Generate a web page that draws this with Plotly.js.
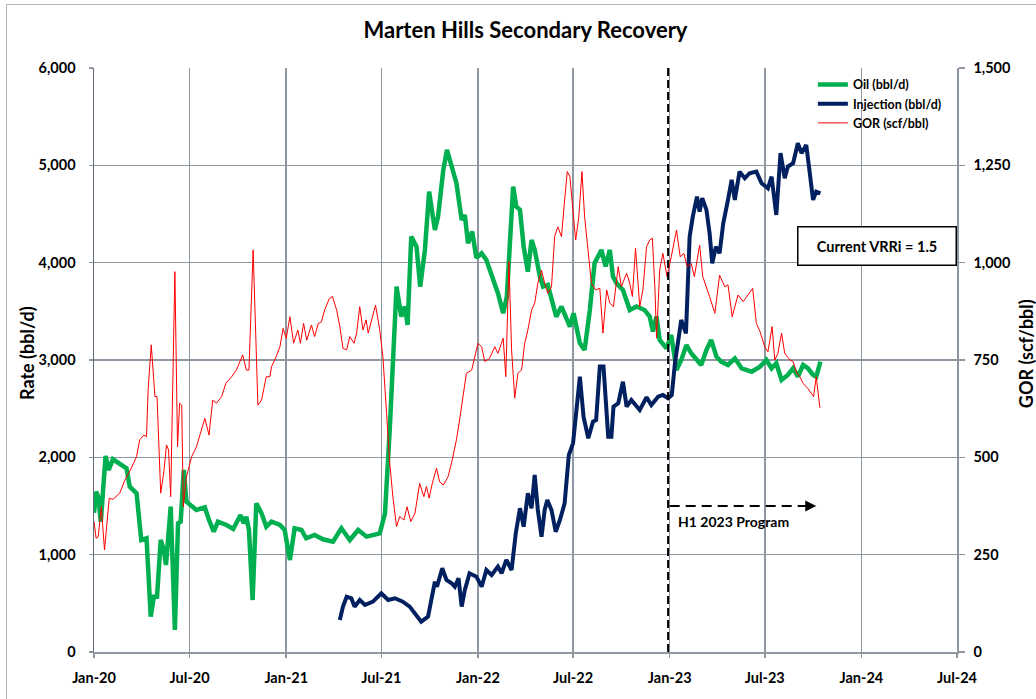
<!DOCTYPE html>
<html>
<head>
<meta charset="utf-8">
<script src="https://cdn.plot.ly/plotly-3.0.1.min.js"></script>
<style>
  html, body { margin: 0; padding: 0; background: #ffffff; overflow: hidden; }
  #chart { position: absolute; left: 0; top: 0; width: 1036px; height: 699px; }
  #frame { position: absolute; left: 6px; top: 4px; width: 1200px; height: 900px;
           border-left: 1px solid #b4b4b4; border-top: 1px solid #b4b4b4; pointer-events: none; }
</style>
</head>
<body>
<div id="chart"></div>
<div id="frame"></div>
<script>
// ---------------- DATA ----------------
const oilDates = ["2020-01-01","2020-01-05","2020-01-09","2020-01-14","2020-01-23","2020-01-29","2020-02-06","2020-02-19","2020-03-03","2020-03-09","2020-03-22","2020-03-31","2020-04-10","2020-04-18","2020-04-24","2020-04-30","2020-05-07","2020-05-13","2020-05-17","2020-05-26","2020-06-03","2020-06-09","2020-06-14","2020-06-20","2020-06-25","2020-07-14","2020-07-30","2020-08-07","2020-08-16","2020-08-24","2020-09-09","2020-09-22","2020-10-06","2020-10-12","2020-10-17","2020-10-22","2020-10-29","2020-11-05","2020-11-15","2020-11-24","2020-12-04","2020-12-20","2020-12-29","2021-01-08","2021-01-17","2021-01-30","2021-02-08","2021-02-24","2021-03-12","2021-03-31","2021-04-16","2021-05-02","2021-05-18","2021-06-03","2021-06-28","2021-07-08","2021-07-17","2021-07-30","2021-08-08","2021-08-15","2021-08-20","2021-08-27","2021-09-06","2021-09-13","2021-09-22","2021-09-30","2021-10-11","2021-10-17","2021-10-27","2021-11-03","2021-11-11","2021-11-21","2021-12-01","2021-12-07","2021-12-13","2021-12-21","2021-12-29","2022-01-08","2022-01-17","2022-01-30","2022-02-08","2022-02-18","2022-02-25","2022-03-09","2022-03-15","2022-03-22","2022-03-29","2022-04-06","2022-04-13","2022-04-19","2022-04-29","2022-05-05","2022-05-14","2022-05-30","2022-06-09","2022-06-25","2022-07-02","2022-07-14","2022-07-23","2022-08-02","2022-08-11","2022-08-24","2022-09-01","2022-09-09","2022-09-15","2022-09-22","2022-10-04","2022-10-17","2022-10-30","2022-11-14","2022-11-24","2022-11-30","2022-12-07","2022-12-13","2022-12-26","2023-01-04","2023-01-14","2023-01-23","2023-02-02","2023-02-11","2023-02-21","2023-03-02","2023-03-12","2023-03-21","2023-03-31","2023-04-09","2023-04-22","2023-05-05","2023-05-18","2023-06-06","2023-06-22","2023-07-04","2023-07-14","2023-07-23","2023-08-02","2023-08-14","2023-08-24","2023-09-02","2023-09-12","2023-09-21","2023-10-01","2023-10-07","2023-10-15"];
const oilRate = [1430,1647,1596,1339,2014,1870,1980,1939,1887,1699,1630,1151,1168,363,568,568,1151,1048,894,1493,226,1322,1339,1870,1545,1459,1487,1356,1236,1339,1305,1264,1408,1322,1390,1254,534,1528,1425,1288,1339,1305,1254,945,1271,1254,1168,1202,1158,1134,1271,1151,1254,1185,1219,1425,2282,3754,3446,3549,3361,4268,4165,3754,4131,4730,4336,4473,4953,5159,5022,4816,4439,4490,4199,4319,4050,4097,4028,3822,3686,3480,3651,4782,4576,4542,4165,3908,4234,4131,3857,3754,3771,3446,3549,3343,3480,3172,3103,3514,3994,4131,3960,4131,3857,3788,3719,3514,3549,3514,3446,3292,3446,3206,3120,3257,2897,3000,3154,3069,3000,2949,3103,3206,3034,2983,2949,3017,2915,2880,2932,3000,2915,2966,2795,2846,2915,2829,2949,2915,2846,2829,2983];

const injDates = ["2021-04-13","2021-04-19","2021-04-26","2021-05-05","2021-05-11","2021-05-21","2021-05-31","2021-06-15","2021-07-01","2021-07-14","2021-07-27","2021-08-11","2021-08-24","2021-09-06","2021-09-15","2021-09-28","2021-10-11","2021-10-15","2021-10-25","2021-11-02","2021-11-12","2021-11-18","2021-11-25","2021-12-01","2021-12-07","2021-12-16","2021-12-29","2022-01-08","2022-01-17","2022-01-27","2022-02-08","2022-02-15","2022-02-24","2022-03-06","2022-03-14","2022-03-22","2022-03-29","2022-04-06","2022-04-13","2022-04-19","2022-04-25","2022-05-02","2022-05-08","2022-05-13","2022-05-21","2022-05-29","2022-06-06","2022-06-15","2022-06-23","2022-07-01","2022-07-07","2022-07-14","2022-07-21","2022-07-30","2022-08-08","2022-08-14","2022-08-21","2022-08-28","2022-09-06","2022-09-12","2022-09-16","2022-09-25","2022-10-04","2022-10-11","2022-10-20","2022-11-05","2022-11-18","2022-11-27","2022-12-10","2022-12-19","2022-12-29","2023-01-05","2023-01-11","2023-01-17","2023-01-23","2023-02-01","2023-02-08","2023-02-14","2023-02-22","2023-02-27","2023-03-04","2023-03-12","2023-03-18","2023-03-23","2023-03-30","2023-04-06","2023-04-13","2023-04-22","2023-04-29","2023-05-05","2023-05-14","2023-05-24","2023-06-02","2023-06-15","2023-06-25","2023-07-07","2023-07-14","2023-07-23","2023-07-31","2023-08-08","2023-08-14","2023-08-24","2023-09-02","2023-09-09","2023-09-18","2023-09-24","2023-10-01","2023-10-07","2023-10-15"];
const injRate = [329,466,568,552,466,534,483,517,603,534,552,517,466,380,311,363,722,671,860,740,706,671,757,466,637,809,774,671,843,791,877,809,946,843,1220,1477,1288,1631,1477,1819,1459,1185,1459,1562,1459,1236,1356,1528,2024,2144,2453,2829,2418,2196,2367,2384,2932,2932,2212,2212,2521,2555,2777,2521,2589,2486,2617,2538,2623,2641,2607,2640,2966,3172,3411,3274,4268,4473,4678,4524,4662,4542,4302,3994,4165,4097,4405,4645,4850,4645,4935,4867,4919,4935,4816,4764,4884,4490,5125,4867,4987,5022,5228,5125,5210,4953,4645,4730,4713];

const gorDates = ["2020-01-01","2020-01-05","2020-01-09","2020-01-15","2020-01-21","2020-01-30","2020-02-06","2020-02-19","2020-02-29","2020-03-12","2020-03-22","2020-03-28","2020-04-05","2020-04-10","2020-04-13","2020-04-19","2020-04-26","2020-04-30","2020-05-07","2020-05-13","2020-05-18","2020-05-22","2020-05-26","2020-06-03","2020-06-08","2020-06-12","2020-06-16","2020-06-19","2020-06-25","2020-07-05","2020-07-14","2020-07-24","2020-07-30","2020-08-03","2020-08-07","2020-08-14","2020-08-21","2020-08-31","2020-09-08","2020-09-19","2020-09-28","2020-10-10","2020-10-17","2020-10-22","2020-10-30","2020-11-08","2020-11-15","2020-11-24","2020-12-01","2020-12-04","2020-12-13","2020-12-20","2020-12-26","2021-01-01","2021-01-08","2021-01-15","2021-01-23","2021-01-28","2021-02-03","2021-02-09","2021-02-18","2021-02-24","2021-03-03","2021-03-09","2021-03-15","2021-03-24","2021-03-30","2021-04-07","2021-04-13","2021-04-19","2021-04-26","2021-05-02","2021-05-10","2021-05-15","2021-05-21","2021-05-27","2021-06-02","2021-06-06","2021-06-12","2021-06-20","2021-06-28","2021-07-04","2021-07-11","2021-07-17","2021-07-23","2021-07-30","2021-08-05","2021-08-13","2021-08-19","2021-08-26","2021-09-03","2021-09-12","2021-09-20","2021-09-25","2021-09-30","2021-10-06","2021-10-14","2021-10-20","2021-10-27","2021-11-05","2021-11-13","2021-11-21","2021-11-27","2021-12-04","2021-12-10","2021-12-20","2021-12-26","2022-01-01","2022-01-08","2022-01-14","2022-01-23","2022-02-02","2022-02-08","2022-02-18","2022-02-23","2022-03-01","2022-03-06","2022-03-12","2022-03-18","2022-03-25","2022-03-31","2022-04-06","2022-04-13","2022-04-19","2022-04-25","2022-05-02","2022-05-08","2022-05-14","2022-05-21","2022-05-27","2022-06-02","2022-06-09","2022-06-15","2022-06-20","2022-06-25","2022-07-01","2022-07-06","2022-07-12","2022-07-18","2022-07-23","2022-07-30","2022-08-05","2022-08-13","2022-08-21","2022-08-27","2022-09-03","2022-09-09","2022-09-16","2022-09-25","2022-10-01","2022-10-11","2022-10-17","2022-10-22","2022-10-28","2022-11-05","2022-11-11","2022-11-18","2022-11-24","2022-11-29","2022-12-04","2022-12-07","2022-12-13","2022-12-19","2022-12-27","2023-01-04","2023-01-14","2023-01-21","2023-01-28","2023-02-03","2023-02-11","2023-02-17","2023-02-27","2023-03-05","2023-03-12","2023-03-18","2023-03-28","2023-04-06","2023-04-16","2023-04-22","2023-04-30","2023-05-11","2023-05-21","2023-05-28","2023-06-08","2023-06-15","2023-06-22","2023-07-01","2023-07-07","2023-07-15","2023-07-20","2023-07-26","2023-08-02","2023-08-08","2023-08-18","2023-08-24","2023-08-31","2023-09-06","2023-09-12","2023-09-21","2023-09-28","2023-10-02","2023-10-07","2023-10-14"];
const gorValue = [335,292,296,373,262,395,392,408,442,472,502,545,557,553,673,789,656,656,408,463,532,519,399,977,527,639,634,373,450,502,527,570,600,579,557,647,639,656,690,707,724,763,724,724,1033,634,647,707,707,733,759,784,831,806,861,793,827,793,844,801,840,810,844,848,878,908,913,878,836,780,776,810,793,819,887,827,853,819,853,891,827,759,613,485,399,322,348,339,373,335,356,433,399,425,395,433,472,437,429,450,493,545,596,665,716,724,759,793,784,746,754,784,767,806,707,1003,776,652,716,724,793,827,878,896,947,981,947,921,938,1067,1092,1067,1161,1234,1221,1135,1058,1118,1234,1118,1033,947,930,934,819,930,896,887,990,938,973,947,913,1037,887,930,1041,1058,1063,930,806,981,1024,964,1015,1084,1015,1024,990,998,964,1045,964,938,913,870,968,938,943,861,917,900,913,934,844,823,784,771,836,750,767,819,767,750,746,716,707,690,677,665,656,707,627];

const seriesNames = ["Oil (bbl/d)", "Injection (bbl/d)", "GOR (scf/bbl)"];
const seriesColors = ["#00b050", "#002060", "#ff0000"];

// ---------------- CHART ----------------
const FONT = "Lato, 'Open Sans', 'DejaVu Sans', sans-serif";
const gridCol = "#8f97a3";

const traces = [
  { x: oilDates, y: oilRate, name: seriesNames[0], type: "scatter", mode: "lines",
    line: { color: seriesColors[0], width: 4.5 }, yaxis: "y" },
  { x: injDates, y: injRate, name: seriesNames[1], type: "scatter", mode: "lines",
    line: { color: seriesColors[1], width: 4 }, yaxis: "y" },
  { x: gorDates, y: gorValue, name: seriesNames[2], type: "scatter", mode: "lines",
    line: { color: seriesColors[2], width: 1 }, yaxis: "y2" }
];

const layout = {
  width: 1036, height: 699,
  margin: { l: 94, r: 79, t: 68, b: 47 },
  paper_bgcolor: "rgba(0,0,0,0)",
  plot_bgcolor: "#ffffff",
  font: { family: FONT, color: "#000000", size: 14, weight: 700 },
  title: { text: "Marten Hills Secondary Recovery", font: { family: FONT, size: 22, weight: 700, color: "#000" },
           x: 0.5, xref: "paper", xanchor: "center", y: 1 - 30/699, yref: "container", yanchor: "middle" },
  showlegend: true,
  legend: { x: 0.833, y: 0.997, xanchor: "left", yanchor: "top", bgcolor: "rgba(0,0,0,0)",
            font: { family: FONT, size: 12.5, weight: 700, color: "#000" }, tracegroupgap: 0, itemwidth: 30 },
  xaxis: {
    type: "date", range: ["2020-01-01", "2024-07-01"], tick0: "2020-01-01", dtick: "M6", tickformat: "%b-%y",
    showgrid: true, gridcolor: gridCol, gridwidth: 1.5,
    showline: true, linecolor: gridCol, linewidth: 1.5,
    ticks: "outside", ticklen: 4, tickcolor: gridCol, tickwidth: 1.5,
    ticklabelstandoff: 8,
    tickfont: { family: FONT, size: 14.5, weight: 700, color: "#000" },
    zeroline: false, fixedrange: true
  },
  yaxis: {
    range: [0, 6000], dtick: 1000, tickformat: ",d",
    showgrid: true, gridcolor: gridCol, gridwidth: 1.5,
    showline: true, linecolor: "#5e6878", linewidth: 1.5,
    ticks: "outside", ticklen: 4, tickcolor: gridCol, tickwidth: 1.5,
    ticklabelstandoff: 10,
    tickfont: { family: FONT, size: 14.5, weight: 700, color: "#000" },
    zeroline: false, fixedrange: true
  },
  yaxis2: {
    overlaying: "y", side: "right", range: [0, 1500], dtick: 250, tickformat: ",d",
    showgrid: false, showline: true, linecolor: gridCol, linewidth: 1.5,
    ticks: "outside", ticklen: 6, tickcolor: gridCol, tickwidth: 1.5,
    ticklabelstandoff: 6,
    tickfont: { family: FONT, size: 14.5, weight: 700, color: "#000" },
    zeroline: false, fixedrange: true
  },
  shapes: [
    { type: "line", xref: "x", yref: "paper", x0: "2022-12-29", x1: "2022-12-29", y0: 0, y1: 1,
      line: { color: "#000", width: 2, dash: "8px,4px" } },
    { type: "line", xref: "x", yref: "y", x0: "2023-01-01", x1: "2023-09-28", y0: 1500, y1: 1500,
      line: { color: "#000", width: 2, dash: "10px,6px" } }
  ],
  annotations: [
    { text: "Rate (bbl/d)", xref: "paper", yref: "paper", x: (27 - 94) / 863, y: 0.512, textangle: -90,
      showarrow: false, font: { family: FONT, size: 18, weight: 700, color: "#000" }, xanchor: "center", yanchor: "middle" },
    { text: "GOR (scf/bbl)", xref: "paper", yref: "paper", x: (1026 - 94) / 863, y: 0.51, textangle: -90,
      showarrow: false, font: { family: FONT, size: 18, weight: 700, color: "#000" }, xanchor: "center", yanchor: "middle" },
    { text: "Current VRRi = 1.5", xref: "paper", yref: "paper", x: (877 - 94) / 863, y: (652 - 246) / 584,
      xanchor: "center", yanchor: "middle",
      showarrow: false, bordercolor: "#000", borderwidth: 1.5, borderpad: 0, bgcolor: "#fff",
      width: 157, height: 37, font: { family: FONT, size: 14.5, weight: 700, color: "#000" } },
    { text: "H1 2023 Program", xref: "x", yref: "y", x: "2023-01-13", y: 1340, xanchor: "left", yanchor: "middle",
      showarrow: false, font: { family: FONT, size: 14, weight: 700, color: "#000" } },
    { text: "", xref: "x", yref: "y", x: "2023-10-07", y: 1500, ax: -14, ay: 0, axref: "pixel", ayref: "pixel",
      showarrow: true, arrowhead: 2, arrowsize: 1.1, arrowwidth: 2, arrowcolor: "#000" }
  ]
};

Plotly.newPlot("chart", traces, layout, { displayModeBar: false, staticPlot: true });
</script>
</body>
</html>
